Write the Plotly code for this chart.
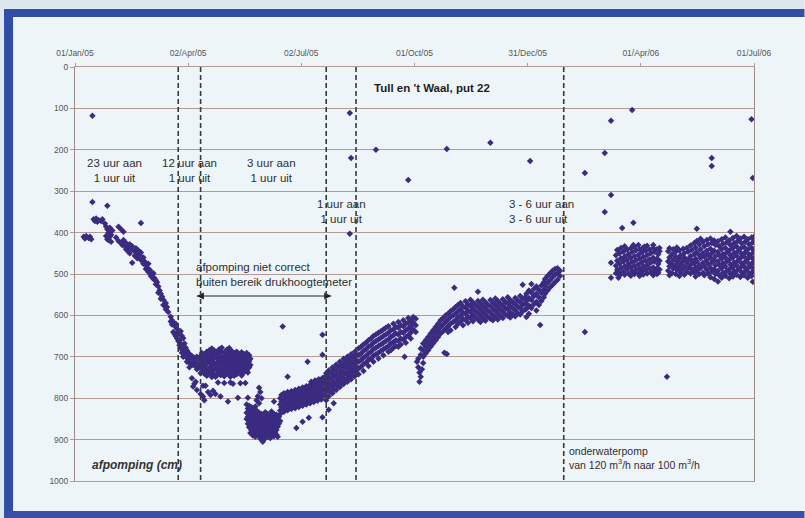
import pandas as pd
import plotly.graph_objects as go

# Drawdown readings for well "put 22", Tull en 't Waal.
# Each row: (days since 01/Jan/05, [drawdown readings in cm on that day])
start_date = pd.Timestamp("2005-01-01")

winter_2005 = [
    (7, [410]), (8, [414]), (9, [408]), (11, [413]), (12, [410]), (13, [416]),
    (14, [118, 326]), (15, [368]), (16, [372]), (17, [366]), (18, [374]), (19, [370]),
    (21, [372]), (22, [368]), (24, [378]), (25, [385, 408]), (26, [335, 392, 416]),
    (27, [400, 418]), (28, [410, 388]), (29, [405, 422]), (30, [395]), (33, [412]),
    (35, [386, 420]), (37, [392, 425]), (38, [430]), (39, [398, 418]), (40, [432]),
    (41, [425, 440]), (43, [435, 446]), (44, [428, 450]), (45, [440]), (46, [433, 473]),
    (48, [445, 456]), (49, [438]), (50, [450, 462]), (51, [443]), (52, [455]),
    (53, [377, 448, 466]), (55, [460, 475]), (56, [470]), (57, [478, 488]), (58, [485]),
    (59, [475, 495]), (60, [490]), (61, [495, 505]), (62, [502]), (63, [498, 512]),
    (64, [510]), (65, [515, 525]), (66, [520]), (67, [530, 545]), (68, [540]),
    (69, [548, 560]), (70, [555]), (71, [562, 575]), (72, [575]), (73, [570, 585]),
    (74, [580]), (75, [592]), (77, [603, 615]), (78, [612, 622]), (79, [618, 640]),
    (80, [625, 645]), (81, [620, 650]), (82, [632, 655]), (83, [640, 662]),
    (84, [645, 660, 672]), (85, [638, 668, 680]), (86, [650, 675, 690]),
    (87, [655, 682, 700]), (88, [668, 690]), (89, [678, 700]), (90, [685, 695, 712]),
    (91, [690, 705]), (92, [693, 712, 725]), (93, [700, 718]), (94, [698, 715, 752]),
    (95, [705, 720, 772]), (96, [702, 712, 765]), (97, [708, 722, 760]),
    (98, [700, 718, 730, 780]),
]

spring_2005 = [
    (100, [702, 714, 726]), (101, [698, 720, 740, 790]), (102, [691, 706, 719, 737]),
    (103, [710, 730, 770, 796]), (104, [696, 709, 723, 741, 805]), (105, [694, 720, 738, 770]),
    (106, [688, 703, 716, 731, 746]), (107, [707, 735, 785]), (108, [684, 699, 711, 727, 738]),
    (109, [690, 716, 742, 792]), (110, [680, 694, 708, 721, 734, 749]), (111, [703, 730, 782]),
    (112, [685, 698, 714, 728, 742]), (113, [692, 720, 748, 790]), (114, [689, 702, 717, 731, 745]),
    (115, [706, 734, 762]), (116, [682, 696, 710, 723, 737]), (117, [690, 717, 744, 796]),
    (118, [678, 687, 701, 715, 729, 743]), (119, [708, 736]), (120, [691, 705, 719, 732, 747, 763]),
    (121, [697, 724]), (122, [683, 697, 712, 726, 740]), (123, [710, 738, 808]),
    (124, [679, 689, 703, 717, 730, 744]), (125, [693, 721, 748, 762]),
    (126, [686, 700, 713, 727, 741]), (127, [707, 734, 765]), (128, [691, 706, 719, 733, 746]),
    (129, [696, 723]), (130, [688, 701, 715, 728, 742]), (131, [710, 738, 799]),
    (132, [693, 707, 721, 735]), (133, [698, 726, 764]), (134, [689, 703, 717, 731, 745]),
    (135, [712, 740]), (136, [694, 708, 722, 736]), (137, [700, 727, 763]),
    (138, [691, 705, 719, 733, 815, 835, 850]), (139, [714, 738, 799, 825, 845, 862]),
    (140, [696, 711, 726, 818, 838, 856, 870]), (141, [705, 720, 830, 848, 866, 884]),
    (142, [822, 841, 860, 878]), (143, [833, 852, 871, 890]), (144, [828, 826, 845, 864, 882]),
    (145, [820, 838, 856, 874, 893]), (146, [805, 830, 849, 868, 886]),
    (147, [795, 842, 860, 878]), (148, [775, 812, 835, 853, 872, 890]),
    (149, [785, 846, 864, 882, 898]), (150, [800, 838, 857, 875, 895]),
    (151, [850, 868, 886, 905]), (152, [843, 861, 880, 900]), (153, [834, 855, 873, 891]),
    (154, [846, 864, 882]), (155, [838, 857, 876, 894]), (156, [849, 867, 885]),
    (157, [841, 860, 878, 896]), (158, [832, 852, 870, 888]), (159, [845, 863, 881]),
    (160, [808, 838, 856, 874, 892]), (161, [848, 866, 884]), (162, [840, 858, 877, 888]),
    (163, [851, 869, 893]), (164, [845, 862]),
]

summer_2005 = [
    (165, [800, 815, 830, 838, 855]), (166, [792, 808, 822]), (167, [627]),
    (168, [788, 803, 818, 833]), (169, [796, 811, 826]), (171, [748, 785, 800, 815, 829]),
    (172, [792, 807, 822]), (174, [783, 798, 812, 826]), (175, [790, 805, 819]),
    (177, [780, 795, 810, 824]), (178, [787, 802, 816, 872]), (180, [777, 792, 807, 821]),
    (181, [784, 799, 813]), (183, [774, 789, 804, 818, 857]), (184, [781, 796, 810]),
    (186, [771, 786, 801, 815]), (187, [712, 778, 793, 807]), (188, [847]),
    (189, [768, 783, 798, 812]), (190, [760, 775, 790, 804]), (192, [765, 780, 795, 809]),
    (193, [757, 772, 787, 801]), (195, [762, 777, 792, 806]), (196, [754, 769, 784, 798]),
    (198, [759, 774, 789, 803]), (199, [647, 695, 751, 766, 781, 795, 846]),
    (201, [748, 763, 778, 792]), (202, [740, 755, 770, 785, 805]),
    (204, [733, 748, 763, 778, 795, 828]), (205, [738, 753, 768, 784]),
    (207, [726, 741, 756, 771, 788]), (208, [731, 746, 762, 778, 812]),
    (210, [719, 734, 749, 765, 780]), (211, [724, 740, 755, 770]),
    (213, [712, 727, 742, 758, 773]), (214, [718, 733, 748, 763]),
    (216, [705, 720, 736, 751, 766]), (217, [711, 726, 741, 756]),
    (219, [700, 714, 729, 744, 760]), (220, [706, 721, 736, 750]),
    (221, [111, 403]), (222, [220, 694, 709, 724, 739, 754]), (223, [700, 715, 730, 745]),
    (225, [688, 703, 718, 733, 747]), (226, [694, 709, 724, 738]),
    (228, [680, 696, 712, 728, 742]), (230, [676, 692, 708, 724]),
    (232, [670, 686, 702, 718, 734]), (234, [666, 682, 698, 714]),
    (236, [660, 676, 692, 708, 722]), (238, [656, 672, 688, 704]),
    (240, [650, 666, 682, 698, 712]), (242, [200, 646, 662, 678, 694]),
    (244, [642, 658, 674, 690, 704]), (246, [638, 654, 670, 686]),
    (248, [634, 650, 666, 682, 696]), (250, [630, 646, 662, 678]),
    (252, [626, 642, 658, 674, 688]), (254, [636, 652, 668, 684]),
    (256, [620, 634, 648, 664, 678]), (258, [628, 644, 660, 674]),
    (260, [616, 630, 646, 662, 676]), (262, [624, 640, 656, 670]),
    (264, [612, 626, 642, 658]), (265, [700]), (266, [620, 636, 652, 666]),
    (268, [273, 606, 618, 632, 648]), (270, [612, 626, 642, 656]),
    (272, [604, 618, 634]), (274, [608, 624, 640]),
    (275, [712]), (276, [705, 725]), (277, [738, 760]), (278, [680, 695, 748]),
    (279, [730]), (280, [668, 684, 700, 715]),
]

autumn_2005 = [
    (282, [660, 676, 692]), (284, [652, 668, 684]), (286, [644, 660, 676]),
    (288, [636, 652, 668]), (290, [628, 644, 660]), (292, [620, 636, 652]),
    (294, [612, 628, 644]), (296, [606, 622, 638]), (297, [690]),
    (298, [600, 616, 632]), (299, [198, 693]), (300, [596, 610, 626, 640]),
    (302, [590, 604, 620, 636]), (304, [586, 600, 616]), (305, [533]),
    (306, [580, 596, 612, 628]), (308, [575, 590, 605, 620]), (310, [570, 585, 600, 615]),
    (312, [578, 593, 608, 624]), (314, [566, 581, 596, 611]), (316, [573, 588, 603, 618]),
    (318, [562, 577, 592, 607]), (320, [569, 584, 599, 614]), (322, [575, 590, 605]),
    (324, [543, 565, 580, 595, 610]), (326, [571, 586, 601, 616]),
    (328, [562, 577, 592, 607]), (330, [568, 583, 598, 613]), (332, [574, 589, 604]),
    (334, [183, 563, 578, 593, 608]), (336, [569, 584, 599, 612]),
    (338, [559, 574, 589, 604]), (340, [565, 580, 595, 610]), (342, [571, 586, 601]),
    (344, [561, 576, 591, 606]), (346, [567, 582, 597]), (348, [556, 571, 586, 601]),
    (350, [563, 578, 593, 605]), (352, [568, 583, 598]), (354, [558, 573, 588, 602]),
    (356, [564, 579, 594]), (358, [553, 568, 583, 598]), (360, [526, 560, 575, 590]),
    (362, [556, 571, 586]), (363, [548, 566, 584, 604]), (365, [540, 558, 576, 596]),
    (366, [227]), (367, [524, 545, 563, 582]), (369, [536, 554, 573]),
    (371, [530, 548, 567, 588]), (373, [538, 556, 575]), (374, [623]),
    (375, [528, 546, 565]), (377, [520, 538, 556]), (378, [512, 530, 548]),
    (380, [505, 522, 540]), (382, [498, 515, 532]), (384, [492, 508, 526]),
    (386, [488, 502, 520]), (388, [486, 498, 514]), (390, [492, 505]),
]

spring_2006 = [
    (410, [256, 640]), (426, [208, 350]), (431, [130, 309, 473, 509]),
    (435, [455, 480, 498]), (436, [442, 468, 490]), (437, [509]),
    (438, [450, 475, 497, 503]), (439, [437, 462, 485]), (440, [389]),
    (441, [446, 470, 494]), (442, [433, 458, 481, 502]), (444, [441, 466, 488]),
    (445, [452, 476, 499]), (447, [438, 461, 484, 504]), (448, [104, 447, 471, 493]),
    (449, [376, 430]), (450, [435, 457, 480, 500]), (451, [443, 467, 489]),
    (453, [430, 454, 477, 498]), (454, [440, 463, 486, 505]), (456, [448, 472, 494]),
    (457, [436, 459, 482, 501]), (458, [434]), (459, [444, 468, 490]),
    (460, [432, 455, 478, 499]), (462, [441, 465, 487]), (463, [450, 473, 496]),
    (465, [430, 437, 461, 484, 503]), (466, [446, 470, 492]), (468, [440, 463, 486, 500]),
    (469, [452, 476, 497]), (470, [437, 445, 468, 489]),
    (476, [748]),
    (477, [445, 470, 492]), (478, [438, 460, 481, 503]), (480, [452, 475, 498]),
    (481, [440, 466, 487]), (483, [447, 458, 479, 500]), (484, [436, 470, 490]),
    (486, [443, 462, 484, 505]), (487, [455, 476, 496]), (489, [439, 468, 488]),
    (490, [449, 460, 481, 502]), (492, [437, 472, 494]), (493, [446, 465, 485]),
    (495, [431, 457, 478, 499]), (496, [442, 468, 489]), (498, [425, 452, 474, 496]),
    (499, [436, 463, 484, 506]), (500, [391, 420, 447, 470, 492]),
    (502, [428, 455, 479, 500]), (503, [415, 440, 462, 486]), (505, [422, 450, 473, 497]),
    (506, [433, 458, 481, 503]), (508, [418, 444, 467, 490]), (509, [428, 453, 476, 499]),
    (511, [414, 439, 461, 485, 508]), (512, [220, 239, 425, 450, 472, 494]),
    (514, [419, 444, 466, 489, 512]), (515, [430, 457, 479, 500]),
    (517, [421, 447, 469, 492, 518]), (518, [433, 455, 478, 503]),
    (520, [416, 440, 463, 486, 509]), (521, [427, 452, 474, 497]),
    (523, [412, 437, 460, 482, 504]), (524, [424, 448, 470, 493]),
    (526, [419, 443, 466, 489, 510]), (527, [398, 430, 455, 477, 499]),
    (529, [413, 438, 461, 484, 506]), (530, [425, 449, 472, 494]),
    (532, [408, 433, 456, 479, 502]), (533, [420, 445, 468, 490]),
    (535, [414, 439, 462, 485, 507]), (536, [426, 451, 474, 496]),
    (538, [410, 435, 458, 481, 503]), (539, [422, 447, 470, 492]),
    (541, [416, 441, 464, 487, 509]), (542, [428, 453, 476, 498]),
    (544, [126, 412, 437, 460, 483, 505]), (545, [268, 424, 449, 472, 494, 519]),
    (546, [410, 418, 440, 463, 486]),
]

# Dates on which the pumping regime was changed (dashed markers)
regime_changes = ["2005-03-25", "2005-04-12", "2005-07-22", "2005-08-15", "2006-01-29"]

# Period in which the logger readings were out of range (arrow)
unreliable_period = ["2005-04-09", "2005-07-26"]
unreliable_level = 553

x_tick_dates = ["2005-01-01", "2005-04-02", "2005-07-02", "2005-10-01",
                "2005-12-31", "2006-04-01", "2006-07-01"]
x_tick_text = ["01/Jan/05", "02/Apr/05", "02/Jul/05", "01/Oct/05",
               "31/Dec/05", "01/Apr/06", "01/Jul/06"]
y_ticks = [0, 100, 200, 300, 400, 500, 600, 700, 800, 900, 1000]


def expand(rows):
    days, vals = [], []
    for day, readings in rows:
        for v in readings:
            days.append(day)
            vals.append(v)
    return days, vals


all_days, all_vals = [], []
for block in (winter_2005, spring_2005, summer_2005, autumn_2005, spring_2006):
    d, v = expand(block)
    all_days += d
    all_vals += v

dates = start_date + pd.to_timedelta(all_days, unit="D")

FONT = "Liberation Sans, Arial, sans-serif"
GRID = "#b39a93"
TEXT = "#2e2e2e"

fig = go.Figure()
fig.add_trace(go.Scatter(
    x=dates, y=all_vals, mode="markers",
    marker=dict(symbol="diamond", size=5, color="#3b2b80", line=dict(width=0)),
    hoverinfo="x+y", showlegend=False,
))

# double-headed arrow spanning the period of unreliable readings
fig.add_trace(go.Scatter(
    x=unreliable_period, y=[unreliable_level] * 2, mode="lines+markers",
    line=dict(color="#222222", width=1.1),
    marker=dict(symbol=["arrow-left", "arrow-right"], size=7, color="#222222",
                line=dict(width=0)),
    hoverinfo="skip", showlegend=False,
))

# Plot-area geometry in pixels, used to place the page frame
L, R, T, B = 75, 754.5, 67, 481
W, H = 805, 518


def px_x(p):
    return (p - L) / (R - L)


def px_y(p):
    return (B - p) / (B - T)


shapes = []
# light scan margin and blue frame around the sheet
frame_blue = "#2f4ea6"
shapes.append(dict(type="rect", xref="paper", yref="paper", layer="below",
                   x0=px_x(0), x1=px_x(W), y0=px_y(9), y1=px_y(0),
                   fillcolor="#dde7ee", line=dict(width=0)))
shapes.append(dict(type="rect", xref="paper", yref="paper", layer="below",
                   x0=px_x(0), x1=px_x(4), y0=px_y(H), y1=px_y(0),
                   fillcolor="#dde7ee", line=dict(width=0)))
shapes.append(dict(type="rect", xref="paper", yref="paper", layer="below",
                   x0=px_x(4), x1=px_x(W), y0=px_y(17), y1=px_y(9),
                   fillcolor=frame_blue, line=dict(width=0)))
shapes.append(dict(type="rect", xref="paper", yref="paper", layer="below",
                   x0=px_x(4), x1=px_x(13), y0=px_y(H), y1=px_y(9),
                   fillcolor=frame_blue, line=dict(width=0)))
shapes.append(dict(type="rect", xref="paper", yref="paper", layer="below",
                   x0=px_x(4), x1=px_x(W), y0=px_y(H), y1=px_y(511),
                   fillcolor="#3a4ea8", line=dict(width=0)))

for d in regime_changes:
    shapes.append(dict(type="line", xref="x", yref="y", layer="above",
                       x0=d, x1=d, y0=0, y1=1000,
                       line=dict(color="#3a3a3a", width=1.6, dash="5px,3px")))

annotations = [
    dict(x="2005-10-15", y=51, text="Tull en 't Waal, put 22",
         font=dict(size=11.5, color="#1e1e1e", family=FONT, weight="bold")),
    dict(x="2005-02-02", y=250, text="23 uur aan<br>1 uur uit"),
    dict(x="2005-04-03", y=250, text="12 uur aan<br>1 uur uit"),
    dict(x="2005-06-08", y=250, text="3 uur aan<br>1 uur uit"),
    dict(x="2005-08-03", y=349, text="1 uur aan<br>1 uur uit"),
    dict(x="2005-12-14", y=350, text="3 - 6 uur aan<br>3 - 6 uur uit", xanchor="left", align="left"),
    dict(x="2005-04-07", y=502, text="afpomping niet correct<br>buiten bereik drukhoogtemeter",
         xanchor="left", align="left"),
    dict(x="2006-02-01", y=944, text="onderwaterpomp<br>van 120 m<sup>3</sup>/h naar 100 m<sup>3</sup>/h",
         xanchor="left", align="left", font=dict(size=10.5, color=TEXT, family=FONT)),
    dict(x="2005-02-20", y=961, text="<b><i>afpomping (cm)</i></b>",
         font=dict(size=12, color="#333333", family=FONT)),
]
for a in annotations:
    a.setdefault("xref", "x")
    a.setdefault("yref", "y")
    a.setdefault("showarrow", False)
    a.setdefault("font", dict(size=11.5, color=TEXT, family=FONT))

fig.update_layout(
    width=W, height=H,
    margin=dict(l=L, r=W - R, t=T, b=H - B, pad=0),
    paper_bgcolor="#eef5f9",
    plot_bgcolor="rgba(0,0,0,0)",
    shapes=shapes,
    annotations=annotations,
    font=dict(family=FONT, size=9, color="#555555"),
    xaxis=dict(
        type="date", range=["2005-01-01", "2006-07-01"], side="top",
        tickvals=x_tick_dates, ticktext=x_tick_text,
        showgrid=False, zeroline=False,
        showline=True, linecolor=GRID, linewidth=1, mirror=True,
        ticks="outside", ticklen=3, tickcolor=GRID,
        tickfont=dict(size=8.5, color="#555555", family=FONT),
        ticklabelstandoff=4,
    ),
    yaxis=dict(
        range=[1000, 0], tickvals=y_ticks,
        showgrid=True, gridcolor=GRID, gridwidth=1, zeroline=False,
        showline=True, linecolor="#9c8a86", linewidth=1, mirror=True,
        ticks="outside", ticklen=4, tickcolor=GRID,
        tickfont=dict(size=8.5, color="#555555", family=FONT),
    ),
)

fig.write_html("out.html")
